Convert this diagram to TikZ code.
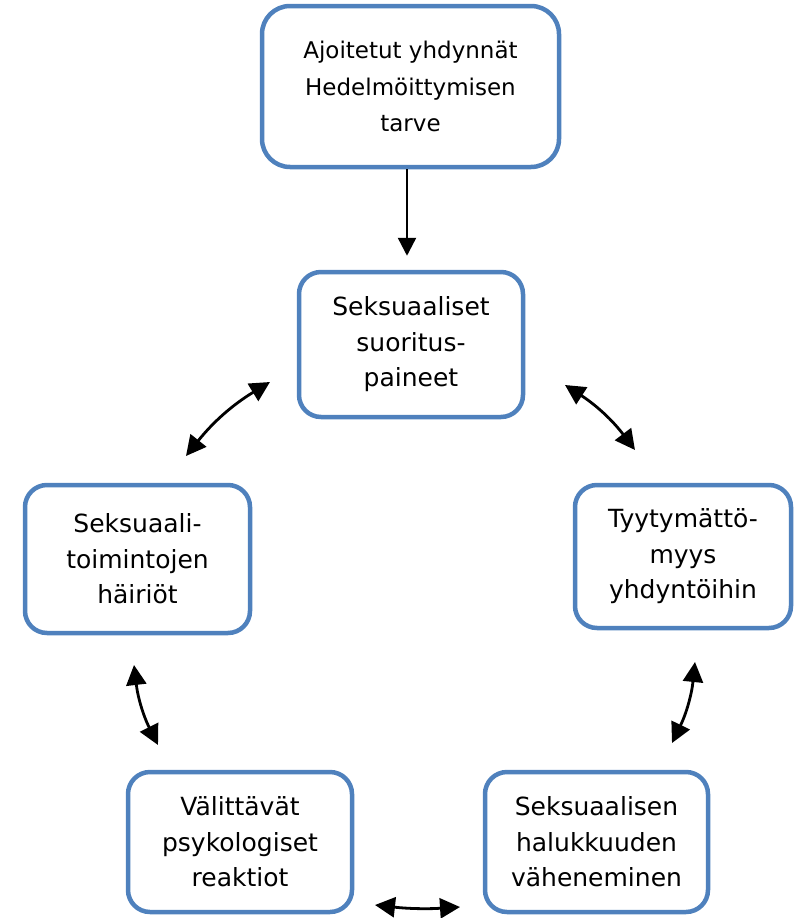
\documentclass[tikz,border=0pt]{standalone}
\usepackage{fontspec}
\setmainfont{DejaVu Sans}
\usetikzlibrary{arrows.meta}
\definecolor{boxblue}{RGB}{79,129,189}
\begin{document}
\begin{tikzpicture}[x=1pt,y=1pt,
  box/.style={draw=boxblue, line width=4.5pt, rounded corners=22pt, fill=white,
    align=center, inner sep=0pt, font=\fontsize{25}{35.5}\selectfont},
  link/.style={line width=2.8pt,
    {Triangle[length=20pt,width=20pt]}-{Triangle[length=20pt,width=20pt]}},
  feed/.style={line width=2.4pt, -{Triangle[length=18pt,width=18pt]}}]
\useasboundingbox (0,0) rectangle (794,-918);
\node[box, minimum width=297pt, minimum height=161pt, rounded corners=28pt,
  font=\fontsize{23}{36.5}\selectfont] (top) at (410.5,-86.5)
  {Ajoitetut yhdynnät\\Hedelmöittymisen\\tarve};
\node[box, minimum width=224pt, minimum height=145pt] (mid) at (411,-344.5)
  {Seksuaaliset\\suoritus-\\paineet};
\node[box, minimum width=225pt, minimum height=148pt] (left) at (137.5,-559)
  {Seksuaali-\\toimintojen\\häiriöt};
\node[box, minimum width=216pt, minimum height=143pt] (right) at (683,-556.5)
  {Tyytymättö-\\myys\\yhdyntöihin};
\node[box, minimum width=224pt, minimum height=140pt] (bl) at (240,-842)
  {Välittävät\\psykologiset\\reaktiot};
\node[box, minimum width=223pt, minimum height=140pt] (br) at (596.5,-842)
  {Seksuaalisen\\halukkuuden\\väheneminen};
\draw[feed, shorten >=14pt] ([xshift=-3.5pt]top.south) -- ([xshift=-4pt]mid.north);
\coordinate (ul1) at (186,-456);
\coordinate (ul2) at (270,-382);
\coordinate (ur1) at (565,-385);
\coordinate (ur2) at (635,-450);
\coordinate (r1) at (695,-662);
\coordinate (r2) at (672,-743);
\coordinate (b1) at (460,-907);
\coordinate (b2) at (375,-905);
\coordinate (l1) at (158,-745);
\coordinate (l2) at (134,-665);
\draw[link] (ul1) to[bend left=10] (ul2);
\draw[link] (ur1) to[bend left=10] (ur2);
\draw[link] (r1) to[bend left=10] (r2);
\draw[link] (b1) to[bend left=5] (b2);
\draw[link] (l1) to[bend left=10] (l2);
\end{tikzpicture}
\end{document}
